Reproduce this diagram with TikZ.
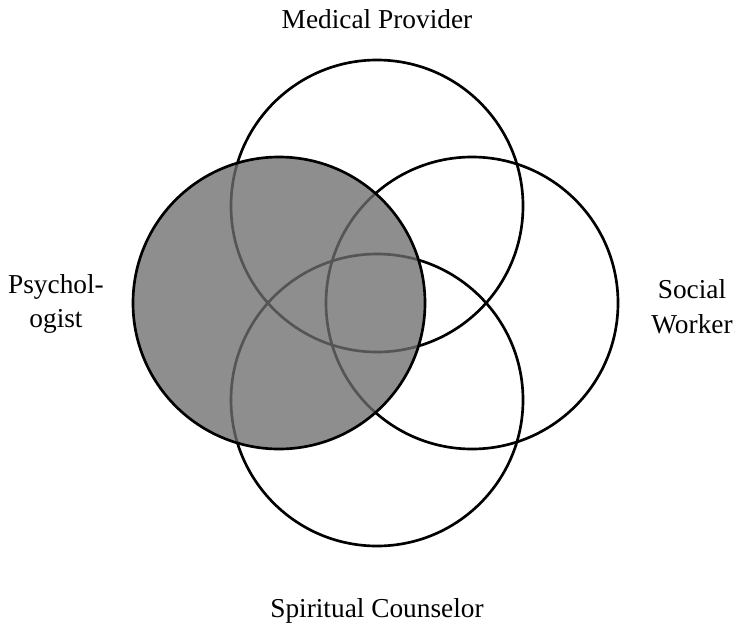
\documentclass[tikz,border=0pt]{standalone}
\usepackage{fontspec}
\setmainfont{Liberation Serif}
\begin{document}
\begin{tikzpicture}[x=0.75pt,y=-0.75pt,
    ring/.style={circle,draw,line width=2pt,minimum size=219pt,inner sep=0pt},
    role/.style={font=\fontsize{20.5}{26}\selectfont,align=center}]
    \useasboundingbox (0,0) rectangle (737,628);

    % the three open circles
    \node[ring] (medical) at (377,206) {};
    \node[ring] (social) at (472,303) {};
    \node[ring] (spiritual) at (377,400) {};
    % psychologist, shaded over the others
    \node[ring,fill=black!57,fill opacity=0.78] (psych) at (279,303) {};

    \node[role,anchor=base] (medlabel) at (377,28) {Medical Provider};
    \node[role,anchor=base] (spirlabel) at (377,617) {Spiritual Counselor};
    \node[role] (psychlabel) at (56,304) {Psychol-\\ogist};
    \node[role] (sociallabel) at (692,307) {Social\\Worker};
\end{tikzpicture}
\end{document}
